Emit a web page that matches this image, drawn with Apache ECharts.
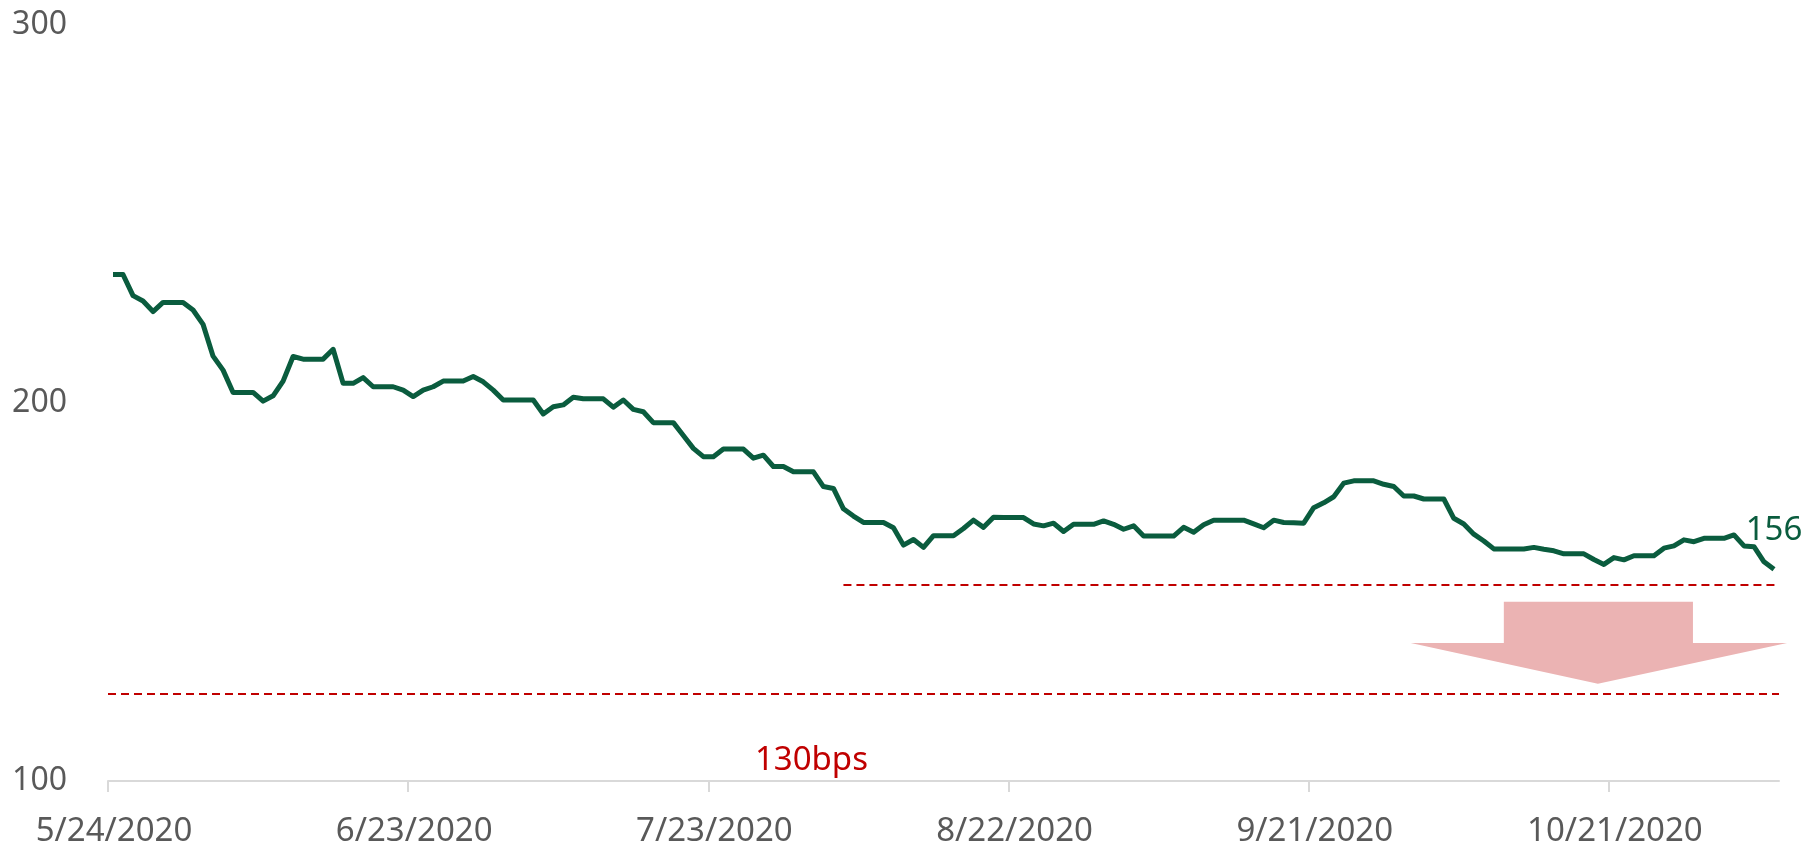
<!DOCTYPE html>
<html>
<head>
<meta charset="utf-8">
<title>spread</title>
<script src="https://cdn.jsdelivr.net/npm/echarts@6/dist/echarts.min.js"></script>
<style>
    html, body { margin: 0; padding: 0; background: #fff; }
    #main { width: 1805px; height: 851px; }
</style>
</head>
<body>
<div id="main"></div>
<script>
// 日度数据，从 5/24/2020 开始，周末沿用周五的数值
let spreadValues = [
    234.0, 234.0, 228.4, 227.0, 224.2, 226.6, 226.6, 226.6, 224.6, 220.8,
    212.4, 208.7, 202.8, 202.8, 202.8, 200.5, 201.9, 205.8, 212.3, 211.6,
    211.6, 211.6, 214.2, 205.2, 205.2, 206.7, 204.3, 204.3, 204.3, 203.4,
    201.7, 203.4, 204.3, 205.8, 205.8, 205.8, 207.0, 205.6, 203.4, 200.8,
    200.8, 200.8, 200.8, 197.1, 199.0, 199.5, 201.5, 201.1, 201.1, 201.1,
    198.9, 200.8, 198.3, 197.7, 194.8, 194.8, 194.8, 191.4, 188.0, 185.8,
    185.8, 187.8, 187.8, 187.8, 185.4, 186.2, 183.2, 183.2, 181.8, 181.8,
    181.8, 177.9, 177.4, 172.0, 170.1, 168.4, 168.4, 168.4, 167.0, 162.4,
    163.9, 161.8, 164.9, 164.9, 164.9, 166.8, 169.0, 167.1, 169.8, 169.7,
    169.7, 169.7, 168.0, 167.5, 168.2, 166.0, 167.9, 167.9, 167.9, 168.8,
    167.9, 166.6, 167.5, 164.8, 164.8, 164.8, 164.8, 167.1, 165.8, 167.8,
    169.0, 169.0, 169.0, 169.0, 168.0, 167.0, 169.0, 168.4, 168.3, 168.2,
    172.3, 173.6, 175.2, 178.8, 179.4, 179.4, 179.4, 178.5, 177.9, 175.4,
    175.4, 174.6, 174.6, 174.6, 169.5, 168.0, 165.3, 163.5, 161.4, 161.4,
    161.4, 161.4, 161.8, 161.3, 160.9, 160.1, 160.1, 160.1, 158.6, 157.3,
    159.1, 158.5, 159.6, 159.6, 159.6, 161.6, 162.2, 163.8, 163.3, 164.2,
    164.2, 164.2, 165.1, 162.2, 162.0, 158.0, 156.0
];
let dayCount = 167;                 // 5/24 ~ 11/6 共167天
let tickDays = [0, 30, 60, 90, 120, 150];
let tickLabels = ['5/24/2020', '6/23/2020', '7/23/2020', '8/22/2020', '9/21/2020', '10/21/2020'];
let yMin = 100, yMax = 300, yStep = 100;

// 两条虚线的位置和说明文字
let upperLevel = 152;
let upperFromDay = 73.5;
let lowerLevel = 123;
let noteText = '130bps';
let notePos = [70.3, 106.1];

// 下跌箭头（数据坐标）
let arrowShape = [
    [139.5, 147.4], [158.4, 147.4], [158.4, 136.5], [167.8, 136.5],
    [148.9, 125.7], [130.2, 136.5], [139.5, 136.5]
];

const GREEN = '#0a5c3e';
const RED = '#c00000';
const GREY = '#595959';
const FONT = 'Noto Sans';

function buildSeriesData(values){
    let arr = [];
    for(let i = 0; i < values.length; i++){
        // 每个点放在当天的中间
        arr.push([i + 0.5, values[i]]);
    }
    return arr;
}

let chart = echarts.init(document.getElementById('main'));
let lastIdx = spreadValues.length - 1;

let option = {
    animation: false,
    grid: { left: 108, right: 26, top: 25, bottom: 70 },
    xAxis: {
        type: 'value',
        min: 0,
        max: dayCount,
        splitLine: { show: false },
        axisLine: { show: true, lineStyle: { color: '#d9d9d9', width: 2 } },
        axisTick: {
            show: true,
            customValues: tickDays,
            length: 11,
            lineStyle: { color: '#d9d9d9', width: 2 }
        },
        axisLabel: {
            customValues: tickDays,
            color: GREY,
            fontFamily: FONT,
            fontSize: 33,
            margin: 34,
            padding: [0, 0, 0, 12],
            formatter: function(v){
                let idx = tickDays.indexOf(v);
                return idx >= 0 ? tickLabels[idx] : '';
            }
        }
    },
    yAxis: {
        type: 'value',
        min: yMin,
        max: yMax,
        interval: yStep,
        axisLine: { show: false },
        axisTick: { show: false },
        splitLine: { show: false },
        axisLabel: { color: GREY, fontFamily: FONT, fontSize: 32, margin: 41 }
    },
    series: [
        {
            type: 'line',
            data: buildSeriesData(spreadValues),
            showSymbol: false,
            symbol: 'none',
            lineStyle: { color: GREEN, width: 5, join: 'round' },
            itemStyle: { color: GREEN },
            z: 5,
            markLine: {
                silent: true,
                symbol: ['none', 'none'],
                label: { show: false },
                lineStyle: { color: RED, width: 2, type: [8, 5] },
                data: [
                    [{ coord: [upperFromDay, upperLevel] }, { coord: [dayCount, upperLevel] }],
                    [{ coord: [0, lowerLevel] }, { coord: [dayCount, lowerLevel] }]
                ]
            },
            markPoint: {
                silent: true,
                symbol: 'circle',
                symbolSize: 0,
                data: [
                    {
                        coord: [lastIdx + 0.5, spreadValues[lastIdx]],
                        label: {
                            show: true,
                            formatter: String(Math.round(spreadValues[lastIdx])),
                            color: GREEN,
                            fontFamily: FONT,
                            fontSize: 33,
                            offset: [0, -39]
                        }
                    },
                    {
                        coord: notePos,
                        label: {
                            show: true,
                            formatter: noteText,
                            color: RED,
                            fontFamily: FONT,
                            fontSize: 33,
                            offset: [0, 3]
                        }
                    }
                ]
            }
        }
    ]
};
chart.setOption(option);

// 箭头按数据坐标换算成像素再画
let arrowPts = arrowShape.map(function(p){
    return chart.convertToPixel({ gridIndex: 0 }, p);
});
chart.setOption({
    graphic: [
        {
            type: 'polygon',
            shape: { points: arrowPts },
            style: { fill: '#ebb3b3' },
            z: 1,
            silent: true
        }
    ]
});
</script>
</body>
</html>
